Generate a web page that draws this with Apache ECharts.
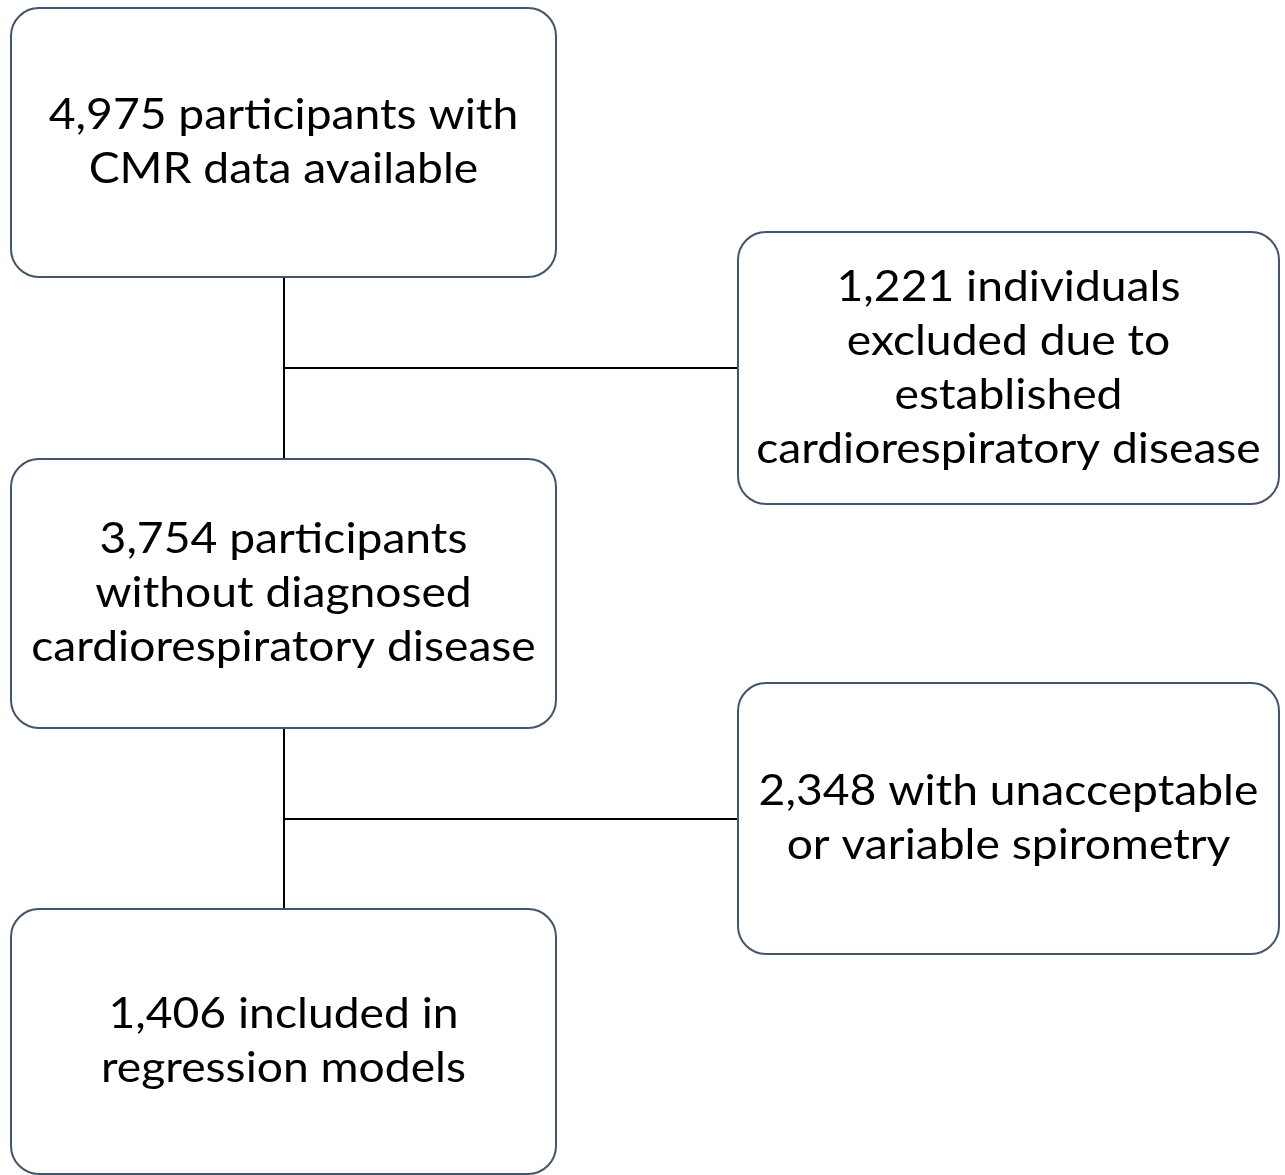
<!DOCTYPE html>
<html><head><meta charset="utf-8">
<script src="https://cdn.jsdelivr.net/npm/echarts@6/dist/echarts.min.js"></script>
<style>html,body{margin:0;padding:0;background:#fff}#c{width:1285px;height:1175px}</style>
</head><body><div id="c"></div>
<script>
// Flowchart content
const boxLabels = [
  "4,975 participants with\nCMR data available",
  "1,221 individuals\nexcluded due to\nestablished\ncardiorespiratory disease",
  "3,754 participants\nwithout diagnosed\ncardiorespiratory disease",
  "2,348 with unacceptable\nor variable spirometry",
  "1,406 included in\nregression models"
];
// Layout (pixel-space coordinates on hidden axes): [x0, y0, x1, y1]
const boxLayout = [
  [11, 8, 556, 277],
  [738, 232, 1279, 504],
  [11, 459, 556, 728],
  [738, 683, 1279, 954],
  [11, 909, 556, 1174]
];
// Connector segments: [x0, y0, x1, y1]
const connectors = [
  [284, 277, 284, 459],
  [284, 368, 738, 368],
  [284, 728, 284, 909],
  [284, 819, 738, 819]
];

const chart = echarts.init(document.getElementById('c'), null, {renderer: 'canvas'});
const FONT = 'Lato, "Open Sans", sans-serif';
chart.setOption({
  animation: false,
  grid: {left: 0, right: 0, top: 0, bottom: 0},
  xAxis: {type: 'value', min: 0, max: 1285, show: false},
  yAxis: {type: 'value', min: 0, max: 1175, inverse: true, show: false},
  series: [
    {
      type: 'custom',
      coordinateSystem: 'cartesian2d',
      data: connectors,
      renderItem: function (params, api) {
        const p0 = api.coord([api.value(0), api.value(1)]);
        const p1 = api.coord([api.value(2), api.value(3)]);
        return {type: 'line', shape: {x1: p0[0], y1: p0[1], x2: p1[0], y2: p1[1]},
          style: {stroke: '#000', lineWidth: 2}};
      }
    },
    {
      type: 'custom',
      coordinateSystem: 'cartesian2d',
      data: boxLayout.map((b, i) => b.concat([i])),
      renderItem: function (params, api) {
        const p0 = api.coord([api.value(0), api.value(1)]);
        const p1 = api.coord([api.value(2), api.value(3)]);
        const idx = api.value(4);
        return {
          type: 'group',
          children: [
            {type: 'rect', shape: {x: p0[0], y: p0[1], width: p1[0] - p0[0], height: p1[1] - p0[1], r: 28},
              style: {fill: '#fff', stroke: '#44546A', lineWidth: 2}},
            {type: 'text', x: (p0[0] + p1[0]) / 2, y: (p0[1] + p1[1]) / 2, scaleX: 1.075,
              style: {text: boxLabels[idx], fill: '#000', font: '43px ' + FONT,
                align: 'center', verticalAlign: 'middle', lineHeight: 54}}
          ]
        };
      }
    }
  ]
});
</script></body></html>
